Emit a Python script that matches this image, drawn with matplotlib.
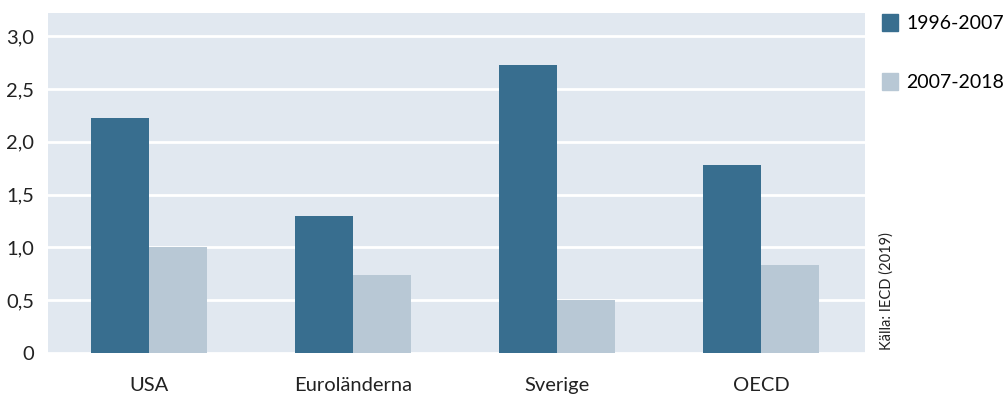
import numpy as np
import matplotlib.pyplot as plt
from matplotlib.patches import Patch

categories = ["USA", "Euroländerna", "Sverige", "OECD"]
period_1 = [2.23, 1.30, 2.73, 1.78]
period_2 = [1.00, 0.74, 0.50, 0.83]
series_labels = ["1996-2007", "2007-2018"]
yticks = [0, 0.5, 1.0, 1.5, 2.0, 2.5, 3.0]
ytick_labels = ["0", "0,5", "1,0", "1,5", "2,0", "2,5", "3,0"]

dark = "#386e8f"
light = "#b8c8d5"
bg = "#e1e8f0"

plt.rcParams['font.family'] = ['Lato', 'DejaVu Sans']

fig = plt.figure(figsize=(10.06, 3.94), dpi=100)
ax = fig.add_axes([48 / 1006, 1 - 353 / 394, (865 - 48) / 1006, (353 - 13) / 394])
ax.set_facecolor(bg)

x = np.arange(len(categories))
w = 0.284
ax.bar(x - w / 2, period_1, w, color=dark, zorder=3)
ax.bar(x + w / 2, period_2, w, color=light, zorder=3)

ax.set_xlim(-0.495, 3.51)
ax.set_ylim(0, 3.22)
ax.set_yticks(yticks)
ax.set_yticklabels(ytick_labels)
ax.set_xticks(x)
ax.set_xticklabels(categories)
ax.yaxis.grid(True, color="white", linewidth=2, zorder=1)
ax.set_axisbelow(True)
for s in ax.spines.values():
    s.set_visible(False)
ax.tick_params(axis="both", length=0, labelsize=14.5, colors="#222222")
ax.tick_params(axis="x", pad=17)
ax.tick_params(axis="y", pad=10)

handles = [Patch(color=dark), Patch(color=light)]
fig.legend(handles, series_labels, loc="upper left", bbox_to_anchor=(874 / 1006, 1 - 6 / 394),
           frameon=False, fontsize=14, handlelength=0.85, handleheight=1.0,
           handletextpad=0.4, labelspacing=2.1, borderaxespad=0)

fig.text(887 / 1006, 1 - 350 / 394, "Källa: IECD (2019)", rotation=90, fontsize=10.5,
         ha="center", va="bottom", color="#222222")

fig.savefig("out.png", dpi=100)
